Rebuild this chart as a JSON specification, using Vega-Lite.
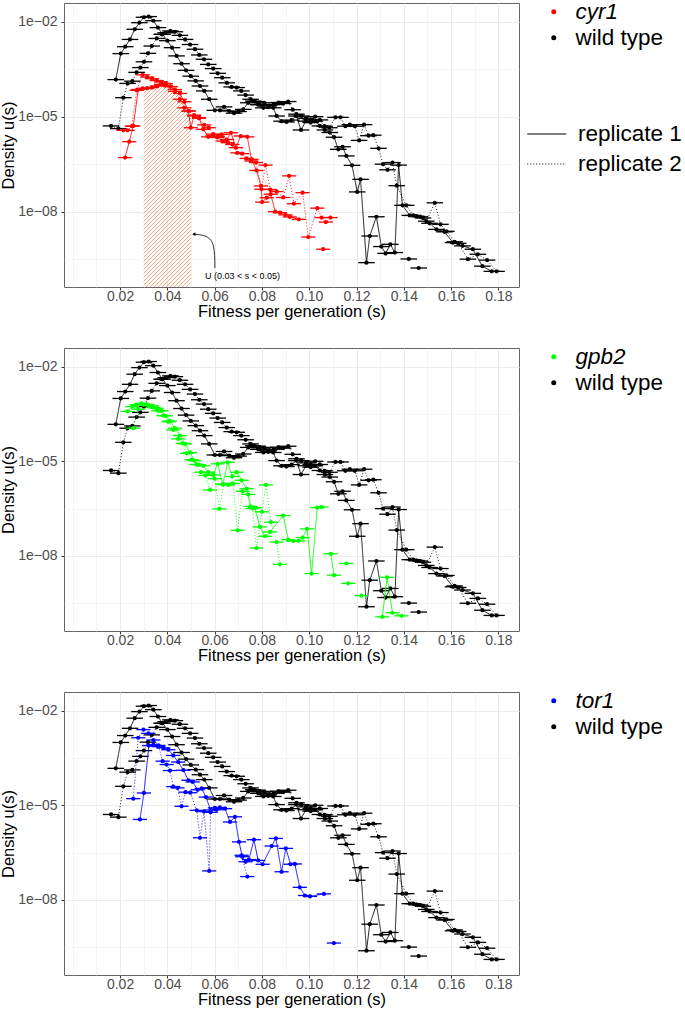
{
"$schema": "https://vega.github.io/schema/vega-lite/v6.json",
"background": "white",
"padding": {"left": 0, "top": 0, "right": 0, "bottom": 0},
"config": {
 "font": "Liberation Sans",
 "view": {"stroke": "#666666", "strokeWidth": 1},
 "axis": {"domain": false, "tickColor": "#333333", "tickSize": 3, "labelFontSize": 14, "labelColor": "#4D4D4D", "titleFontSize": 16.5, "titleFontWeight": "normal", "titleColor": "#000000", "gridColor": "#EBEBEB", "labelOverlap": false, "labelFlush": false},
 "axisX": {"labelPadding": -1, "titlePadding": 0},
 "axisY": {"labelPadding": 4, "titlePadding": 1},
 "legend": {"orient": "none", "labelFontSize": 22.5, "labelColor": "#000000", "padding": 0, "rowPadding": 3, "symbolStrokeWidth": 0, "labelLimit": 300}
},
"datasets": {
 "wt": [
  {"s":0.0182,"u":1.48e-4,"r":1,"k":1,"e":0.0035},{"s":0.0203,"u":9.8e-4,"r":1,"k":1,"e":0.0035},{"s":0.0222,"u":1.62e-3,"r":1,"k":1,"e":0.0035},{"s":0.0242,"u":2.75e-3,"r":1,"k":1,"e":0.0035},{"s":0.0262,"u":5.75e-3,"r":1,"k":1,"e":0.0035},{"s":0.0282,"u":9.3e-3,"r":1,"k":1,"e":0.0035},{"s":0.0301,"u":1.38e-2,"r":1,"k":1,"e":0.0035},{"s":0.0321,"u":1.45e-2,"r":1,"k":1,"e":0.0035},{"s":0.0341,"u":1.07e-2,"r":1,"k":1,"e":0.0035},{"s":0.0360,"u":6.5e-3,"r":1,"k":1,"e":0.0035},
  {"s":0.0380,"u":3.98e-3,"r":1,"k":1,"e":0.0035},{"s":0.0400,"u":2.51e-3,"r":1,"k":1,"e":0.0035},{"s":0.0420,"u":1.51e-3,"r":1,"k":1,"e":0.0035},{"s":0.0439,"u":8.3e-4,"r":1,"k":1,"e":0.0035},{"s":0.0460,"u":4.7e-4,"r":1,"k":1,"e":0.0035},{"s":0.0479,"u":2.9e-4,"r":1,"k":1,"e":0.0035},{"s":0.0499,"u":1.9e-4,"r":1,"k":1,"e":0.0035},{"s":0.0520,"u":1.35e-4,"r":1,"k":1,"e":0.0035},{"s":0.0538,"u":9.3e-5,"r":1,"k":1,"e":0.0035},{"s":0.0556,"u":6.5e-5,"r":1,"k":1,"e":0.0035},
  {"s":0.0577,"u":3.55e-5,"r":1,"k":1,"e":0.0035},{"s":0.0601,"u":1.58e-5,"r":1,"k":1,"e":0.0035},{"s":0.0622,"u":1.58e-5,"r":1,"k":1,"e":0.0035},{"s":0.0640,"u":2.04e-5,"r":1,"k":1,"e":0.0035},{"s":0.0662,"u":1.51e-5,"r":1,"k":1,"e":0.0035},{"s":0.0682,"u":1.29e-5,"r":1,"k":1,"e":0.0035},{"s":0.0701,"u":1.45e-5,"r":1,"k":1,"e":0.0035},{"s":0.0721,"u":1.7e-5,"r":1,"k":1,"e":0.0035},{"s":0.0742,"u":2.75e-5,"r":1,"k":1,"e":0.0035},{"s":0.0763,"u":3.1e-5,"r":1,"k":1,"e":0.0035},
  {"s":0.0784,"u":2.4e-5,"r":1,"k":1,"e":0.0035},{"s":0.0806,"u":1.9e-5,"r":1,"k":1,"e":0.0035},{"s":0.0827,"u":2.0e-5,"r":1,"k":1,"e":0.0035},{"s":0.0848,"u":1.9e-5,"r":1,"k":1,"e":0.0035},{"s":0.0862,"u":1.05e-5,"r":1,"k":1,"e":0.0035},{"s":0.0883,"u":7.2e-6,"r":1,"k":1,"e":0.0035},{"s":0.0904,"u":6.8e-6,"r":1,"k":1,"e":0.0035},{"s":0.0925,"u":7.8e-6,"r":1,"k":1,"e":0.0035},{"s":0.0946,"u":1.05e-5,"r":1,"k":1,"e":0.0035},{"s":0.0965,"u":3.8e-6,"r":1,"k":1,"e":0.0035},
  {"s":0.0986,"u":7.2e-6,"r":1,"k":1,"e":0.0035},{"s":0.1006,"u":6.5e-6,"r":1,"k":1,"e":0.0035},{"s":0.1024,"u":7.2e-6,"r":1,"k":1,"e":0.0035},{"s":0.1045,"u":5.1e-6,"r":1,"k":1,"e":0.0035},{"s":0.1066,"u":3.8e-6,"r":1,"k":1,"e":0.0035},{"s":0.1087,"u":3.16e-6,"r":1,"k":1,"e":0.0035},{"s":0.1105,"u":2.24e-6,"r":1,"k":1,"e":0.0035},{"s":0.1123,"u":9.3e-7,"r":1,"k":1,"e":0.0035},{"s":0.1141,"u":1.12e-6,"r":1,"k":1,"e":0.0035},{"s":0.1157,"u":5.75e-7,"r":1,"k":1,"e":0.0035},
  {"s":0.1181,"u":2.9e-7,"r":1,"k":1,"e":0.0035},{"s":0.1203,"u":4.2e-8,"r":1,"k":1,"e":0.0035},{"s":0.1217,"u":1.05e-7,"r":1,"k":1,"e":0.0035},{"s":0.1242,"u":2.45e-10,"r":1,"k":1,"e":0.0035},{"s":0.1256,"u":1.7e-9,"r":1,"k":1,"e":0.0035},{"s":0.1284,"u":6.9e-9,"r":1,"k":1,"e":0.0035},{"s":0.1305,"u":7.9e-10,"r":1,"k":1,"e":0.0035},{"s":0.1323,"u":4.8e-10,"r":1,"k":1,"e":0.0035},{"s":0.1343,"u":9.3e-10,"r":1,"k":1,"e":0.0035},{"s":0.1362,"u":5.1e-10,"r":1,"k":1,"e":0.0035},
  {"s":0.1378,"u":2.95e-7,"r":1,"k":1,"e":0.0035},{"s":0.1394,"u":1.58e-8,"r":1,"k":1,"e":0.0035},{"s":0.1425,"u":7.6e-9,"r":1,"k":1,"e":0.0035},{"s":0.1453,"u":7.2e-9,"r":1,"k":1,"e":0.0035},{"s":0.1481,"u":6.3e-9,"r":1,"k":1,"e":0.0035},{"s":0.1509,"u":4.3e-9,"r":1,"k":1,"e":0.0035},{"s":0.1538,"u":2.75e-9,"r":1,"k":1,"e":0.0035},{"s":0.1572,"u":2.3e-9,"r":1,"k":1,"e":0.0035},{"s":0.1608,"u":1.05e-9,"r":1,"k":1,"e":0.0035},{"s":0.1648,"u":8.3e-10,"r":1,"k":1,"e":0.0035},
  {"s":0.1692,"u":6.5e-10,"r":1,"k":1,"e":0.0035},{"s":0.1732,"u":1.9e-10,"r":1,"k":1,"e":0.0035},{"s":0.1772,"u":1.3e-10,"r":1,"k":1,"e":0.0035},
  {"s":0.1421,"u":3.2e-10,"r":1,"k":3,"e":0.0035},{"s":0.1463,"u":1.66e-10,"r":1,"k":4,"e":0.0035},
  {"s":0.0162,"u":5.1e-6,"r":2,"k":2,"e":0.0035},{"s":0.0193,"u":4.2e-6,"r":2,"k":2,"e":0.0035},{"s":0.0214,"u":3.98e-5,"r":2,"k":2,"e":0.0035},{"s":0.0232,"u":1.12e-4,"r":2,"k":2,"e":0.0035},{"s":0.0252,"u":1.32e-4,"r":2,"k":2,"e":0.0035},{"s":0.0270,"u":2.51e-4,"r":2,"k":2,"e":0.0035},{"s":0.0286,"u":3.55e-4,"r":2,"k":2,"e":0.0035},{"s":0.0301,"u":5.4e-4,"r":2,"k":2,"e":0.0035},{"s":0.0318,"u":1.0e-3,"r":2,"k":2,"e":0.0035},{"s":0.0334,"u":1.7e-3,"r":2,"k":2,"e":0.0035},
  {"s":0.0355,"u":2.95e-3,"r":2,"k":2,"e":0.0035},{"s":0.0376,"u":3.98e-3,"r":2,"k":2,"e":0.0035},{"s":0.0393,"u":4.47e-3,"r":2,"k":2,"e":0.0035},{"s":0.0413,"u":5.1e-3,"r":2,"k":2,"e":0.0035},{"s":0.0432,"u":4.8e-3,"r":2,"k":2,"e":0.0035},{"s":0.0453,"u":3.7e-3,"r":2,"k":2,"e":0.0035},{"s":0.0475,"u":2.75e-3,"r":2,"k":2,"e":0.0035},{"s":0.0496,"u":1.9e-3,"r":2,"k":2,"e":0.0035},{"s":0.0517,"u":1.35e-3,"r":2,"k":2,"e":0.0035},{"s":0.0535,"u":8.9e-4,"r":2,"k":2,"e":0.0035},
  {"s":0.0555,"u":6.5e-4,"r":2,"k":2,"e":0.0035},{"s":0.0573,"u":4.47e-4,"r":2,"k":2,"e":0.0035},{"s":0.0594,"u":3.3e-4,"r":2,"k":2,"e":0.0035},{"s":0.0613,"u":2.34e-4,"r":2,"k":2,"e":0.0035},{"s":0.0632,"u":1.7e-4,"r":2,"k":2,"e":0.0035},{"s":0.0651,"u":1.17e-4,"r":2,"k":2,"e":0.0035},{"s":0.0672,"u":8.7e-5,"r":2,"k":2,"e":0.0035},{"s":0.0693,"u":8.3e-5,"r":2,"k":2,"e":0.0035},{"s":0.0713,"u":6.5e-5,"r":2,"k":2,"e":0.0035},{"s":0.0731,"u":4.8e-5,"r":2,"k":2,"e":0.0035},
  {"s":0.0752,"u":3.55e-5,"r":2,"k":2,"e":0.0035},{"s":0.0770,"u":3.0e-5,"r":2,"k":2,"e":0.0035},{"s":0.0790,"u":2.4e-5,"r":2,"k":2,"e":0.0035},{"s":0.0810,"u":2.75e-5,"r":2,"k":2,"e":0.0035},{"s":0.0830,"u":2.24e-5,"r":2,"k":2,"e":0.0035},{"s":0.0850,"u":2.4e-5,"r":2,"k":2,"e":0.0035},{"s":0.0870,"u":2.8e-5,"r":2,"k":2,"e":0.0035},{"s":0.0890,"u":2.6e-5,"r":2,"k":2,"e":0.0035},{"s":0.0911,"u":3.0e-5,"r":2,"k":2,"e":0.0035},{"s":0.0930,"u":1.66e-5,"r":2,"k":2,"e":0.0035},
  {"s":0.0946,"u":1.2e-5,"r":2,"k":2,"e":0.0035},{"s":0.0966,"u":1.05e-5,"r":2,"k":2,"e":0.0035},{"s":0.0986,"u":8.9e-6,"r":2,"k":2,"e":0.0035},{"s":0.1006,"u":7.9e-6,"r":2,"k":2,"e":0.0035},{"s":0.1025,"u":1.0e-5,"r":2,"k":2,"e":0.0035},{"s":0.1045,"u":7.9e-6,"r":2,"k":2,"e":0.0035},{"s":0.1065,"u":5.0e-6,"r":2,"k":2,"e":0.0035},{"s":0.1085,"u":4.47e-6,"r":2,"k":2,"e":0.0035},{"s":0.1111,"u":9.5e-6,"r":2,"k":2,"e":0.0035},{"s":0.1132,"u":9.5e-6,"r":2,"k":2,"e":0.0035},
  {"s":0.1153,"u":5.0e-6,"r":2,"k":2,"e":0.0035},{"s":0.1172,"u":5.6e-6,"r":2,"k":2,"e":0.0035},{"s":0.1193,"u":5.0e-6,"r":2,"k":2,"e":0.0035},{"s":0.1211,"u":1.78e-6,"r":2,"k":2,"e":0.0035},{"s":0.1232,"u":5.6e-6,"r":2,"k":2,"e":0.0035},{"s":0.1251,"u":2.5e-6,"r":2,"k":2,"e":0.0035},{"s":0.1271,"u":2.6e-6,"r":2,"k":2,"e":0.0035},{"s":0.1293,"u":1.0e-6,"r":2,"k":2,"e":0.0035},{"s":0.1312,"u":3.16e-7,"r":2,"k":2,"e":0.0035},{"s":0.1331,"u":2.1e-7,"r":2,"k":2,"e":0.0035},
  {"s":0.1352,"u":3.55e-7,"r":2,"k":2,"e":0.0035},{"s":0.1370,"u":6.6e-8,"r":2,"k":2,"e":0.0035},{"s":0.1410,"u":1.58e-8,"r":2,"k":2,"e":0.0035},{"s":0.1440,"u":7.6e-9,"r":2,"k":2,"e":0.0035},{"s":0.1468,"u":6.9e-9,"r":2,"k":2,"e":0.0035},{"s":0.1495,"u":5.0e-9,"r":2,"k":2,"e":0.0035},{"s":0.1531,"u":1.9e-8,"r":2,"k":2,"e":0.0035},{"s":0.1555,"u":3.98e-9,"r":2,"k":2,"e":0.0035},{"s":0.1580,"u":2.4e-9,"r":2,"k":2,"e":0.0035},{"s":0.1615,"u":1.12e-9,"r":2,"k":2,"e":0.0035},
  {"s":0.1630,"u":1.0e-9,"r":2,"k":2,"e":0.0035},{"s":0.1671,"u":3.16e-10,"r":2,"k":2,"e":0.0035},{"s":0.1713,"u":4.5e-10,"r":2,"k":2,"e":0.0035},{"s":0.1752,"u":2.95e-10,"r":2,"k":2,"e":0.0035},{"s":0.1792,"u":1.3e-10,"r":2,"k":2,"e":0.0035}
 ],
 "cyr1": [
  {"s":0.0221,"u":5.1e-7,"r":1,"k":1,"e":0.003},{"s":0.0239,"u":1.62e-6,"r":1,"k":1,"e":0.003},{"s":0.0256,"u":5.1e-6,"r":1,"k":1,"e":0.003},{"s":0.0277,"u":7.2e-5,"r":1,"k":1,"e":0.003},{"s":0.0296,"u":7.8e-5,"r":1,"k":1,"e":0.003},{"s":0.0315,"u":7.9e-5,"r":1,"k":1,"e":0.003},{"s":0.0335,"u":8.3e-5,"r":1,"k":1,"e":0.003},{"s":0.0355,"u":9.3e-5,"r":1,"k":1,"e":0.003},{"s":0.0373,"u":1.05e-4,"r":1,"k":1,"e":0.003},{"s":0.0393,"u":9.8e-5,"r":1,"k":1,"e":0.003},
  {"s":0.0413,"u":8.9e-5,"r":1,"k":1,"e":0.003},{"s":0.0432,"u":7.2e-5,"r":1,"k":1,"e":0.003},{"s":0.0453,"u":5.4e-5,"r":1,"k":1,"e":0.003},{"s":0.0472,"u":2.95e-5,"r":1,"k":1,"e":0.003},{"s":0.0489,"u":1.51e-5,"r":1,"k":1,"e":0.003},{"s":0.0499,"u":4.47e-6,"r":1,"k":1,"e":0.003},{"s":0.0513,"u":1.05e-5,"r":1,"k":1,"e":0.003},{"s":0.0534,"u":9.3e-6,"r":1,"k":1,"e":0.003},{"s":0.0552,"u":3.98e-6,"r":1,"k":1,"e":0.003},{"s":0.0573,"u":2.3e-6,"r":1,"k":1,"e":0.003},
  {"s":0.0591,"u":2.45e-6,"r":1,"k":1,"e":0.003},{"s":0.0611,"u":2.2e-6,"r":1,"k":1,"e":0.003},{"s":0.0630,"u":2.75e-6,"r":1,"k":1,"e":0.003},{"s":0.0651,"u":1.9e-6,"r":1,"k":1,"e":0.003},{"s":0.0669,"u":3.1e-6,"r":1,"k":1,"e":0.003},{"s":0.0690,"u":1.05e-6,"r":1,"k":1,"e":0.003},{"s":0.0710,"u":2.45e-6,"r":1,"k":1,"e":0.003},{"s":0.0738,"u":2.3e-6,"r":1,"k":1,"e":0.003},{"s":0.0756,"u":4.47e-7,"r":1,"k":1,"e":0.003},{"s":0.0777,"u":2.0e-7,"r":1,"k":1,"e":0.003},
  {"s":0.0796,"u":6.5e-8,"r":1,"k":1,"e":0.003},{"s":0.0801,"u":2.0e-8,"r":1,"k":1,"e":0.003},{"s":0.0820,"u":2.75e-8,"r":1,"k":1,"e":0.003},{"s":0.0837,"u":3.55e-8,"r":1,"k":1,"e":0.003},{"s":0.0856,"u":1.0e-8,"r":1,"k":1,"e":0.003},{"s":0.0876,"u":9.3e-9,"r":1,"k":1,"e":0.003},{"s":0.0900,"u":7.9e-9,"r":1,"k":1,"e":0.003},{"s":0.0918,"u":6.8e-9,"r":1,"k":1,"e":0.003},{"s":0.0956,"u":5.75e-9,"r":1,"k":1,"e":0.003},
  {"s":0.0214,"u":3.7e-6,"r":2,"k":2,"e":0.003},{"s":0.0232,"u":3.7e-6,"r":2,"k":2,"e":0.003},{"s":0.0250,"u":5.0e-6,"r":2,"k":2,"e":0.003},{"s":0.0270,"u":6.8e-5,"r":2,"k":2,"e":0.003},{"s":0.0296,"u":2.1e-4,"r":2,"k":2,"e":0.003},{"s":0.0315,"u":1.78e-4,"r":2,"k":2,"e":0.003},{"s":0.0335,"u":1.58e-4,"r":2,"k":2,"e":0.003},{"s":0.0355,"u":1.38e-4,"r":2,"k":2,"e":0.003},{"s":0.0373,"u":1.26e-4,"r":2,"k":2,"e":0.003},{"s":0.0393,"u":1.12e-4,"r":2,"k":2,"e":0.003},
  {"s":0.0413,"u":8.9e-5,"r":2,"k":2,"e":0.003},{"s":0.0432,"u":6.3e-5,"r":2,"k":2,"e":0.003},{"s":0.0453,"u":3.55e-5,"r":2,"k":2,"e":0.003},{"s":0.0472,"u":1.9e-5,"r":2,"k":2,"e":0.003},{"s":0.0491,"u":1.51e-5,"r":2,"k":2,"e":0.003},{"s":0.0513,"u":1.12e-5,"r":2,"k":2,"e":0.003},{"s":0.0534,"u":8.9e-6,"r":2,"k":2,"e":0.003},{"s":0.0556,"u":5.5e-6,"r":2,"k":2,"e":0.003},{"s":0.0575,"u":4.47e-6,"r":2,"k":2,"e":0.003},{"s":0.0594,"u":2.8e-6,"r":2,"k":2,"e":0.003},
  {"s":0.0613,"u":2.4e-6,"r":2,"k":2,"e":0.003},{"s":0.0634,"u":1.7e-6,"r":2,"k":2,"e":0.003},{"s":0.0655,"u":1.51e-6,"r":2,"k":2,"e":0.003},{"s":0.0675,"u":1.32e-6,"r":2,"k":2,"e":0.003},{"s":0.0696,"u":7.2e-7,"r":2,"k":2,"e":0.003},{"s":0.0716,"u":6.8e-7,"r":2,"k":2,"e":0.003},{"s":0.0735,"u":4.8e-7,"r":2,"k":2,"e":0.003},{"s":0.0755,"u":3.98e-7,"r":2,"k":2,"e":0.003},{"s":0.0775,"u":3.55e-7,"r":2,"k":2,"e":0.003},{"s":0.0798,"u":5.1e-8,"r":2,"k":2,"e":0.003},
  {"s":0.0815,"u":2.95e-7,"r":2,"k":2,"e":0.003},{"s":0.0835,"u":5.0e-8,"r":2,"k":2,"e":0.003},{"s":0.0862,"u":4.3e-8,"r":2,"k":2,"e":0.003},{"s":0.0890,"u":2.8e-8,"r":2,"k":2,"e":0.003},{"s":0.0915,"u":1.35e-7,"r":2,"k":2,"e":0.003},{"s":0.0935,"u":1.78e-8,"r":2,"k":2,"e":0.003},{"s":0.0972,"u":3.98e-8,"r":2,"k":2,"e":0.003},{"s":0.0996,"u":1.58e-9,"r":2,"k":2,"e":0.003},{"s":0.1034,"u":1.29e-8,"r":2,"k":2,"e":0.003},{"s":0.1052,"u":6.5e-9,"r":2,"k":2,"e":0.003},
  {"s":0.1070,"u":4.7e-9,"r":2,"k":2,"e":0.003},{"s":0.1090,"u":6.5e-9,"r":2,"k":2,"e":0.003},{"s":0.1059,"u":6.5e-10,"r":2,"k":3,"e":0.003}
 ],
 "gpb2": [
  {"s":0.0232,"u":3.8e-4,"r":1,"k":1,"e":0.003},{"s":0.0252,"u":5.4e-4,"r":1,"k":1,"e":0.003},{"s":0.0270,"u":6.2e-4,"r":1,"k":1,"e":0.003},{"s":0.0291,"u":6.8e-4,"r":1,"k":1,"e":0.003},{"s":0.0313,"u":6.3e-4,"r":1,"k":1,"e":0.003},{"s":0.0334,"u":5.75e-4,"r":1,"k":1,"e":0.003},{"s":0.0355,"u":4.8e-4,"r":1,"k":1,"e":0.003},{"s":0.0376,"u":3.98e-4,"r":1,"k":1,"e":0.003},{"s":0.0393,"u":2.75e-4,"r":1,"k":1,"e":0.003},{"s":0.0411,"u":1.9e-4,"r":1,"k":1,"e":0.003},
  {"s":0.0432,"u":1.12e-4,"r":1,"k":1,"e":0.003},{"s":0.0453,"u":6.5e-5,"r":1,"k":1,"e":0.003},{"s":0.0475,"u":3.55e-5,"r":1,"k":1,"e":0.003},{"s":0.0496,"u":1.9e-5,"r":1,"k":1,"e":0.003},{"s":0.0514,"u":1.05e-5,"r":1,"k":1,"e":0.003},{"s":0.0534,"u":7.8e-6,"r":1,"k":1,"e":0.003},{"s":0.0552,"u":7.2e-6,"r":1,"k":1,"e":0.003},{"s":0.0573,"u":4.5e-6,"r":1,"k":1,"e":0.003},{"s":0.0594,"u":3.7e-6,"r":1,"k":1,"e":0.003},{"s":0.0613,"u":8.3e-6,"r":1,"k":1,"e":0.003},
  {"s":0.0634,"u":1.82e-6,"r":1,"k":1,"e":0.003},{"s":0.0655,"u":9.3e-6,"r":1,"k":1,"e":0.003},{"s":0.0675,"u":3.3e-6,"r":1,"k":1,"e":0.003},{"s":0.0693,"u":4.5e-6,"r":1,"k":1,"e":0.003},{"s":0.0714,"u":2.5e-6,"r":1,"k":1,"e":0.003},{"s":0.0735,"u":1.35e-6,"r":1,"k":1,"e":0.003},{"s":0.0752,"u":3.7e-7,"r":1,"k":1,"e":0.003},{"s":0.0770,"u":3.4e-7,"r":1,"k":1,"e":0.003},{"s":0.0791,"u":8.3e-8,"r":1,"k":1,"e":0.003},{"s":0.0813,"u":4.2e-8,"r":1,"k":1,"e":0.003},
  {"s":0.0834,"u":5.75e-8,"r":1,"k":1,"e":0.003},{"s":0.0890,"u":1.9e-7,"r":1,"k":1,"e":0.003},{"s":0.0911,"u":3.3e-8,"r":1,"k":1,"e":0.003},{"s":0.0932,"u":2.95e-8,"r":1,"k":1,"e":0.003},{"s":0.0955,"u":3.0e-8,"r":1,"k":1,"e":0.003},{"s":0.0972,"u":3.8e-8,"r":1,"k":1,"e":0.003},{"s":0.0991,"u":7.2e-8,"r":1,"k":1,"e":0.003},{"s":0.1010,"u":2.75e-9,"r":1,"k":1,"e":0.003},{"s":0.1034,"u":3.4e-7,"r":1,"k":1,"e":0.003},{"s":0.1052,"u":3.55e-7,"r":1,"k":1,"e":0.003},
  {"s":0.1091,"u":1.17e-8,"r":1,"k":3,"e":0.003},{"s":0.1105,"u":2.45e-9,"r":1,"k":3,"e":0.003},
  {"s":0.1309,"u":1.17e-10,"r":1,"k":4,"e":0.003},{"s":0.1329,"u":2.1e-9,"r":1,"k":4,"e":0.003},{"s":0.1352,"u":1.58e-10,"r":1,"k":4,"e":0.003},{"s":0.1390,"u":1.26e-10,"r":1,"k":4,"e":0.003},
  {"s":0.1221,"u":5.5e-10,"r":1,"k":5,"e":0.003},{"s":0.1157,"u":5.75e-9,"r":1,"k":6,"e":0.003},{"s":0.1165,"u":1.35e-9,"r":1,"k":7,"e":0.003},
  {"s":0.0256,"u":1.12e-4,"r":2,"k":2,"e":0.003},{"s":0.0277,"u":4.5e-4,"r":2,"k":2,"e":0.003},{"s":0.0299,"u":6.2e-4,"r":2,"k":2,"e":0.003},{"s":0.0320,"u":6.0e-4,"r":2,"k":2,"e":0.003},{"s":0.0341,"u":5.0e-4,"r":2,"k":2,"e":0.003},{"s":0.0362,"u":3.98e-4,"r":2,"k":2,"e":0.003},{"s":0.0383,"u":2.8e-4,"r":2,"k":2,"e":0.003},{"s":0.0404,"u":1.78e-4,"r":2,"k":2,"e":0.003},{"s":0.0425,"u":9.8e-5,"r":2,"k":2,"e":0.003},{"s":0.0446,"u":5.1e-5,"r":2,"k":2,"e":0.003},
  {"s":0.0465,"u":3.7e-5,"r":2,"k":2,"e":0.003},{"s":0.0482,"u":1.78e-5,"r":2,"k":2,"e":0.003},{"s":0.0503,"u":1.12e-5,"r":2,"k":2,"e":0.003},{"s":0.0522,"u":7.9e-6,"r":2,"k":2,"e":0.003},{"s":0.0542,"u":4.5e-6,"r":2,"k":2,"e":0.003},{"s":0.0561,"u":3.55e-6,"r":2,"k":2,"e":0.003},{"s":0.0580,"u":1.23e-6,"r":2,"k":2,"e":0.003},{"s":0.0600,"u":2.8e-6,"r":2,"k":2,"e":0.003},{"s":0.0620,"u":3.1e-7,"r":2,"k":2,"e":0.003},{"s":0.0639,"u":1.9e-6,"r":2,"k":2,"e":0.003},
  {"s":0.0658,"u":1.78e-6,"r":2,"k":2,"e":0.003},{"s":0.0677,"u":2.0e-6,"r":2,"k":2,"e":0.003},{"s":0.0697,"u":6.5e-8,"r":2,"k":2,"e":0.003},{"s":0.0718,"u":1.12e-6,"r":2,"k":2,"e":0.003},{"s":0.0742,"u":8.9e-7,"r":2,"k":2,"e":0.003},{"s":0.0760,"u":3.16e-7,"r":2,"k":2,"e":0.003},{"s":0.0777,"u":1.78e-8,"r":2,"k":2,"e":0.003},{"s":0.0800,"u":2.5e-7,"r":2,"k":2,"e":0.003},{"s":0.0817,"u":1.78e-6,"r":2,"k":2,"e":0.003},{"s":0.0838,"u":1.17e-7,"r":2,"k":2,"e":0.003},
  {"s":0.0862,"u":2.75e-8,"r":2,"k":2,"e":0.003},{"s":0.0876,"u":5.4e-9,"r":2,"k":2,"e":0.003}
 ],
 "tor1": [
  {"s":0.0284,"u":3.55e-6,"r":1,"k":1,"e":0.003},{"s":0.0301,"u":2.45e-5,"r":1,"k":1,"e":0.003},{"s":0.0322,"u":7.8e-4,"r":1,"k":1,"e":0.003},{"s":0.0341,"u":8.3e-4,"r":1,"k":1,"e":0.003},{"s":0.0362,"u":7.2e-4,"r":1,"k":1,"e":0.003},{"s":0.0383,"u":6.6e-4,"r":1,"k":1,"e":0.003},{"s":0.0404,"u":5.75e-4,"r":1,"k":1,"e":0.003},{"s":0.0425,"u":3.8e-4,"r":1,"k":1,"e":0.003},{"s":0.0446,"u":2.34e-4,"r":1,"k":1,"e":0.003},{"s":0.0468,"u":1.29e-4,"r":1,"k":1,"e":0.003},
  {"s":0.0489,"u":6.2e-5,"r":1,"k":1,"e":0.003},{"s":0.0507,"u":5.5e-5,"r":1,"k":1,"e":0.003},{"s":0.0528,"u":3.1e-5,"r":1,"k":1,"e":0.003},{"s":0.0545,"u":3.4e-5,"r":1,"k":1,"e":0.003},{"s":0.0563,"u":1.82e-5,"r":1,"k":1,"e":0.003},{"s":0.0583,"u":7.1e-6,"r":1,"k":1,"e":0.003},{"s":0.0601,"u":8.3e-6,"r":1,"k":1,"e":0.003},{"s":0.0622,"u":8.5e-6,"r":1,"k":1,"e":0.003},{"s":0.0644,"u":7.8e-6,"r":1,"k":1,"e":0.003},{"s":0.0665,"u":2.95e-6,"r":1,"k":1,"e":0.003},
  {"s":0.0686,"u":4.3e-6,"r":1,"k":1,"e":0.003},{"s":0.0703,"u":6.9e-7,"r":1,"k":1,"e":0.003},{"s":0.0717,"u":2.34e-7,"r":1,"k":1,"e":0.003},{"s":0.0731,"u":1.62e-7,"r":1,"k":1,"e":0.003},{"s":0.0745,"u":1.9e-7,"r":1,"k":1,"e":0.003},{"s":0.0766,"u":8.1e-7,"r":1,"k":1,"e":0.003},{"s":0.0784,"u":1.78e-7,"r":1,"k":1,"e":0.003},{"s":0.0803,"u":1.35e-7,"r":1,"k":1,"e":0.003},{"s":0.0841,"u":5.1e-7,"r":1,"k":1,"e":0.003},{"s":0.0859,"u":8.9e-7,"r":1,"k":1,"e":0.003},
  {"s":0.0883,"u":7.8e-8,"r":1,"k":1,"e":0.003},{"s":0.0901,"u":4.3e-7,"r":1,"k":1,"e":0.003},{"s":0.0921,"u":1.35e-7,"r":1,"k":1,"e":0.003},{"s":0.0939,"u":1.38e-7,"r":1,"k":1,"e":0.003},{"s":0.0960,"u":2.5e-8,"r":1,"k":1,"e":0.003},{"s":0.0982,"u":1.38e-8,"r":1,"k":1,"e":0.003},{"s":0.1003,"u":1.29e-8,"r":1,"k":1,"e":0.003},{"s":0.1062,"u":1.55e-8,"r":1,"k":1,"e":0.003},
  {"s":0.1104,"u":4.3e-10,"r":1,"k":3,"e":0.003},
  {"s":0.0256,"u":1.62e-5,"r":2,"k":2,"e":0.003},{"s":0.0277,"u":1.38e-3,"r":2,"k":2,"e":0.003},{"s":0.0299,"u":2.5e-3,"r":2,"k":2,"e":0.003},{"s":0.0320,"u":1.9e-3,"r":2,"k":2,"e":0.003},{"s":0.0341,"u":1.17e-3,"r":2,"k":2,"e":0.003},{"s":0.0362,"u":7.9e-4,"r":2,"k":2,"e":0.003},{"s":0.0380,"u":2.5e-4,"r":2,"k":2,"e":0.003},{"s":0.0397,"u":1.95e-4,"r":2,"k":2,"e":0.003},{"s":0.0411,"u":1.26e-4,"r":2,"k":2,"e":0.003},{"s":0.0425,"u":3.9e-5,"r":2,"k":2,"e":0.003},
  {"s":0.0443,"u":3.55e-5,"r":2,"k":2,"e":0.003},{"s":0.0460,"u":9.3e-6,"r":2,"k":2,"e":0.003},{"s":0.0477,"u":2.6e-5,"r":2,"k":2,"e":0.003},{"s":0.0497,"u":2.5e-5,"r":2,"k":2,"e":0.003},{"s":0.0524,"u":6.9e-6,"r":2,"k":2,"e":0.003},{"s":0.0538,"u":9.3e-7,"r":2,"k":2,"e":0.003},{"s":0.0555,"u":6.3e-6,"r":2,"k":2,"e":0.003},{"s":0.0577,"u":8.3e-8,"r":2,"k":2,"e":0.003},{"s":0.0583,"u":6.0e-6,"r":2,"k":2,"e":0.003},{"s":0.0608,"u":7.2e-6,"r":2,"k":2,"e":0.003},
  {"s":0.0714,"u":2.6e-7,"r":2,"k":4,"e":0.003},{"s":0.0738,"u":5.5e-8,"r":2,"k":4,"e":0.003}
 ],
 "hatch": [
  {"s":0.0300,"u":7.8e-5},{"s":0.0315,"u":7.9e-5},{"s":0.0335,"u":8.3e-5},{"s":0.0355,"u":9.3e-5},{"s":0.0373,"u":1.05e-4},{"s":0.0393,"u":9.8e-5},{"s":0.0413,"u":8.9e-5},{"s":0.0432,"u":7.2e-5},{"s":0.0453,"u":5.4e-5},{"s":0.0472,"u":2.95e-5},{"s":0.0489,"u":1.51e-5},{"s":0.0500,"u":1.5e-5}
 ]
},
"spacing": 61,
"bounds": "flush",
"resolve": {"scale": {"color": "independent", "strokeDash": "independent", "x": "independent", "y": "independent"}, "legend": {"color": "independent", "strokeDash": "independent"}},
"vconcat": [
 {
  "width": 455, "height": 284,
  "encoding": {
   "x": {"field": "s", "type": "quantitative", "scale": {"domain": [-0.0037, 0.1887], "nice": false, "zero": false}, "axis": {"title": "Fitness per generation (s)", "values": [0,0.01,0.02,0.03,0.04,0.05,0.06,0.07,0.08,0.09,0.1,0.11,0.12,0.13,0.14,0.15,0.16,0.17,0.18], "labelExpr": "round(datum.value*100)%2==0 && datum.value>0.001 ? format(datum.value,'.2f') : ''", "gridWidth": {"condition": {"test": "round(datum.value*100)%2==1 || datum.value<0.001", "value": 0.5}, "value": 1}, "tickOpacity": {"condition": {"test": "round(datum.value*100)%2==1 || datum.value<0.001", "value": 0}, "value": 1}}},
   "y": {"field": "u", "type": "quantitative", "scale": {"type": "log", "domain": [4.17e-11, 0.0389], "nice": false}, "axis": {"title": "Density u(s)", "values": [0.01,3.162e-4,1e-5,3.162e-7,1e-8,3.162e-10], "labelExpr": "datum.value > 0.005 ? '1e−02' : (datum.value > 5e-6 && datum.value < 2e-5) ? '1e−05' : (datum.value > 5e-9 && datum.value < 2e-8) ? '1e−08' : ''", "gridWidth": {"condition": {"test": "datum.value < 0.005 && !(datum.value > 5e-6 && datum.value < 2e-5) && !(datum.value > 5e-9 && datum.value < 2e-8)", "value": 0.5}, "value": 1}, "tickOpacity": {"condition": {"test": "datum.value < 0.005 && !(datum.value > 5e-6 && datum.value < 2e-5) && !(datum.value > 5e-9 && datum.value < 2e-8)", "value": 0}, "value": 1}}}
  },
  "layer": [
   {"data": {"name": "hatch"}, "mark": {"type": "area", "strokeWidth": 0, "fill": {"gradient": "linear", "x1": 0, "y1": 0, "x2": 0.271, "y2": 1.1608, "stops": [
    {"offset":0,"color":"#f4a582"},{"offset":0.0060,"color":"#f4a582"},{"offset":0.0060,"color":"rgba(255,255,255,0)"},{"offset":0.0161,"color":"rgba(255,255,255,0)"},
    {"offset":0.0161,"color":"#f4a582"},{"offset":0.0222,"color":"#f4a582"},{"offset":0.0222,"color":"rgba(255,255,255,0)"},{"offset":0.0323,"color":"rgba(255,255,255,0)"},
    {"offset":0.0323,"color":"#f4a582"},{"offset":0.0383,"color":"#f4a582"},{"offset":0.0383,"color":"rgba(255,255,255,0)"},{"offset":0.0484,"color":"rgba(255,255,255,0)"},
    {"offset":0.0484,"color":"#f4a582"},{"offset":0.0544,"color":"#f4a582"},{"offset":0.0544,"color":"rgba(255,255,255,0)"},{"offset":0.0645,"color":"rgba(255,255,255,0)"},
    {"offset":0.0645,"color":"#f4a582"},{"offset":0.0706,"color":"#f4a582"},{"offset":0.0706,"color":"rgba(255,255,255,0)"},{"offset":0.0806,"color":"rgba(255,255,255,0)"},
    {"offset":0.0806,"color":"#f4a582"},{"offset":0.0867,"color":"#f4a582"},{"offset":0.0867,"color":"rgba(255,255,255,0)"},{"offset":0.0968,"color":"rgba(255,255,255,0)"},
    {"offset":0.0968,"color":"#f4a582"},{"offset":0.1028,"color":"#f4a582"},{"offset":0.1028,"color":"rgba(255,255,255,0)"},{"offset":0.1129,"color":"rgba(255,255,255,0)"},
    {"offset":0.1129,"color":"#f4a582"},{"offset":0.1190,"color":"#f4a582"},{"offset":0.1190,"color":"rgba(255,255,255,0)"},{"offset":0.1290,"color":"rgba(255,255,255,0)"},
    {"offset":0.1290,"color":"#f4a582"},{"offset":0.1351,"color":"#f4a582"},{"offset":0.1351,"color":"rgba(255,255,255,0)"},{"offset":0.1452,"color":"rgba(255,255,255,0)"},
    {"offset":0.1452,"color":"#f4a582"},{"offset":0.1512,"color":"#f4a582"},{"offset":0.1512,"color":"rgba(255,255,255,0)"},{"offset":0.1613,"color":"rgba(255,255,255,0)"},
    {"offset":0.1613,"color":"#f4a582"},{"offset":0.1673,"color":"#f4a582"},{"offset":0.1673,"color":"rgba(255,255,255,0)"},{"offset":0.1774,"color":"rgba(255,255,255,0)"},
    {"offset":0.1774,"color":"#f4a582"},{"offset":0.1835,"color":"#f4a582"},{"offset":0.1835,"color":"rgba(255,255,255,0)"},{"offset":0.1935,"color":"rgba(255,255,255,0)"},
    {"offset":0.1935,"color":"#f4a582"},{"offset":0.1996,"color":"#f4a582"},{"offset":0.1996,"color":"rgba(255,255,255,0)"},{"offset":0.2097,"color":"rgba(255,255,255,0)"},
    {"offset":0.2097,"color":"#f4a582"},{"offset":0.2157,"color":"#f4a582"},{"offset":0.2157,"color":"rgba(255,255,255,0)"},{"offset":0.2258,"color":"rgba(255,255,255,0)"},
    {"offset":0.2258,"color":"#f4a582"},{"offset":0.2319,"color":"#f4a582"},{"offset":0.2319,"color":"rgba(255,255,255,0)"},{"offset":0.2419,"color":"rgba(255,255,255,0)"},
    {"offset":0.2419,"color":"#f4a582"},{"offset":0.2480,"color":"#f4a582"},{"offset":0.2480,"color":"rgba(255,255,255,0)"},{"offset":0.2581,"color":"rgba(255,255,255,0)"},
    {"offset":0.2581,"color":"#f4a582"},{"offset":0.2641,"color":"#f4a582"},{"offset":0.2641,"color":"rgba(255,255,255,0)"},{"offset":0.2742,"color":"rgba(255,255,255,0)"},
    {"offset":0.2742,"color":"#f4a582"},{"offset":0.2802,"color":"#f4a582"},{"offset":0.2802,"color":"rgba(255,255,255,0)"},{"offset":0.2903,"color":"rgba(255,255,255,0)"},
    {"offset":0.2903,"color":"#f4a582"},{"offset":0.2964,"color":"#f4a582"},{"offset":0.2964,"color":"rgba(255,255,255,0)"},{"offset":0.3065,"color":"rgba(255,255,255,0)"},
    {"offset":0.3065,"color":"#f4a582"},{"offset":0.3125,"color":"#f4a582"},{"offset":0.3125,"color":"rgba(255,255,255,0)"},{"offset":0.3226,"color":"rgba(255,255,255,0)"},
    {"offset":0.3226,"color":"#f4a582"},{"offset":0.3286,"color":"#f4a582"},{"offset":0.3286,"color":"rgba(255,255,255,0)"},{"offset":0.3387,"color":"rgba(255,255,255,0)"},
    {"offset":0.3387,"color":"#f4a582"},{"offset":0.3448,"color":"#f4a582"},{"offset":0.3448,"color":"rgba(255,255,255,0)"},{"offset":0.3548,"color":"rgba(255,255,255,0)"},
    {"offset":0.3548,"color":"#f4a582"},{"offset":0.3609,"color":"#f4a582"},{"offset":0.3609,"color":"rgba(255,255,255,0)"},{"offset":0.3710,"color":"rgba(255,255,255,0)"},
    {"offset":0.3710,"color":"#f4a582"},{"offset":0.3770,"color":"#f4a582"},{"offset":0.3770,"color":"rgba(255,255,255,0)"},{"offset":0.3871,"color":"rgba(255,255,255,0)"},
    {"offset":0.3871,"color":"#f4a582"},{"offset":0.3931,"color":"#f4a582"},{"offset":0.3931,"color":"rgba(255,255,255,0)"},{"offset":0.4032,"color":"rgba(255,255,255,0)"},
    {"offset":0.4032,"color":"#f4a582"},{"offset":0.4093,"color":"#f4a582"},{"offset":0.4093,"color":"rgba(255,255,255,0)"},{"offset":0.4194,"color":"rgba(255,255,255,0)"},
    {"offset":0.4194,"color":"#f4a582"},{"offset":0.4254,"color":"#f4a582"},{"offset":0.4254,"color":"rgba(255,255,255,0)"},{"offset":0.4355,"color":"rgba(255,255,255,0)"},
    {"offset":0.4355,"color":"#f4a582"},{"offset":0.4415,"color":"#f4a582"},{"offset":0.4415,"color":"rgba(255,255,255,0)"},{"offset":0.4516,"color":"rgba(255,255,255,0)"},
    {"offset":0.4516,"color":"#f4a582"},{"offset":0.4577,"color":"#f4a582"},{"offset":0.4577,"color":"rgba(255,255,255,0)"},{"offset":0.4677,"color":"rgba(255,255,255,0)"},
    {"offset":0.4677,"color":"#f4a582"},{"offset":0.4738,"color":"#f4a582"},{"offset":0.4738,"color":"rgba(255,255,255,0)"},{"offset":0.4839,"color":"rgba(255,255,255,0)"},
    {"offset":0.4839,"color":"#f4a582"},{"offset":0.4899,"color":"#f4a582"},{"offset":0.4899,"color":"rgba(255,255,255,0)"},{"offset":0.5000,"color":"rgba(255,255,255,0)"},
    {"offset":0.5000,"color":"#f4a582"},{"offset":0.5060,"color":"#f4a582"},{"offset":0.5060,"color":"rgba(255,255,255,0)"},{"offset":0.5161,"color":"rgba(255,255,255,0)"},
    {"offset":0.5161,"color":"#f4a582"},{"offset":0.5222,"color":"#f4a582"},{"offset":0.5222,"color":"rgba(255,255,255,0)"},{"offset":0.5323,"color":"rgba(255,255,255,0)"},
    {"offset":0.5323,"color":"#f4a582"},{"offset":0.5383,"color":"#f4a582"},{"offset":0.5383,"color":"rgba(255,255,255,0)"},{"offset":0.5484,"color":"rgba(255,255,255,0)"},
    {"offset":0.5484,"color":"#f4a582"},{"offset":0.5544,"color":"#f4a582"},{"offset":0.5544,"color":"rgba(255,255,255,0)"},{"offset":0.5645,"color":"rgba(255,255,255,0)"},
    {"offset":0.5645,"color":"#f4a582"},{"offset":0.5706,"color":"#f4a582"},{"offset":0.5706,"color":"rgba(255,255,255,0)"},{"offset":0.5806,"color":"rgba(255,255,255,0)"},
    {"offset":0.5806,"color":"#f4a582"},{"offset":0.5867,"color":"#f4a582"},{"offset":0.5867,"color":"rgba(255,255,255,0)"},{"offset":0.5968,"color":"rgba(255,255,255,0)"},
    {"offset":0.5968,"color":"#f4a582"},{"offset":0.6028,"color":"#f4a582"},{"offset":0.6028,"color":"rgba(255,255,255,0)"},{"offset":0.6129,"color":"rgba(255,255,255,0)"},
    {"offset":0.6129,"color":"#f4a582"},{"offset":0.6190,"color":"#f4a582"},{"offset":0.6190,"color":"rgba(255,255,255,0)"},{"offset":0.6290,"color":"rgba(255,255,255,0)"},
    {"offset":0.6290,"color":"#f4a582"},{"offset":0.6351,"color":"#f4a582"},{"offset":0.6351,"color":"rgba(255,255,255,0)"},{"offset":0.6452,"color":"rgba(255,255,255,0)"},
    {"offset":0.6452,"color":"#f4a582"},{"offset":0.6512,"color":"#f4a582"},{"offset":0.6512,"color":"rgba(255,255,255,0)"},{"offset":0.6613,"color":"rgba(255,255,255,0)"},
    {"offset":0.6613,"color":"#f4a582"},{"offset":0.6673,"color":"#f4a582"},{"offset":0.6673,"color":"rgba(255,255,255,0)"},{"offset":0.6774,"color":"rgba(255,255,255,0)"},
    {"offset":0.6774,"color":"#f4a582"},{"offset":0.6835,"color":"#f4a582"},{"offset":0.6835,"color":"rgba(255,255,255,0)"},{"offset":0.6935,"color":"rgba(255,255,255,0)"},
    {"offset":0.6935,"color":"#f4a582"},{"offset":0.6996,"color":"#f4a582"},{"offset":0.6996,"color":"rgba(255,255,255,0)"},{"offset":0.7097,"color":"rgba(255,255,255,0)"},
    {"offset":0.7097,"color":"#f4a582"},{"offset":0.7157,"color":"#f4a582"},{"offset":0.7157,"color":"rgba(255,255,255,0)"},{"offset":0.7258,"color":"rgba(255,255,255,0)"},
    {"offset":0.7258,"color":"#f4a582"},{"offset":0.7319,"color":"#f4a582"},{"offset":0.7319,"color":"rgba(255,255,255,0)"},{"offset":0.7419,"color":"rgba(255,255,255,0)"},
    {"offset":0.7419,"color":"#f4a582"},{"offset":0.7480,"color":"#f4a582"},{"offset":0.7480,"color":"rgba(255,255,255,0)"},{"offset":0.7581,"color":"rgba(255,255,255,0)"},
    {"offset":0.7581,"color":"#f4a582"},{"offset":0.7641,"color":"#f4a582"},{"offset":0.7641,"color":"rgba(255,255,255,0)"},{"offset":0.7742,"color":"rgba(255,255,255,0)"},
    {"offset":0.7742,"color":"#f4a582"},{"offset":0.7802,"color":"#f4a582"},{"offset":0.7802,"color":"rgba(255,255,255,0)"},{"offset":0.7903,"color":"rgba(255,255,255,0)"},
    {"offset":0.7903,"color":"#f4a582"},{"offset":0.7964,"color":"#f4a582"},{"offset":0.7964,"color":"rgba(255,255,255,0)"},{"offset":0.8065,"color":"rgba(255,255,255,0)"},
    {"offset":0.8065,"color":"#f4a582"},{"offset":0.8125,"color":"#f4a582"},{"offset":0.8125,"color":"rgba(255,255,255,0)"},{"offset":0.8226,"color":"rgba(255,255,255,0)"},
    {"offset":0.8226,"color":"#f4a582"},{"offset":0.8286,"color":"#f4a582"},{"offset":0.8286,"color":"rgba(255,255,255,0)"},{"offset":0.8387,"color":"rgba(255,255,255,0)"},
    {"offset":0.8387,"color":"#f4a582"},{"offset":0.8448,"color":"#f4a582"},{"offset":0.8448,"color":"rgba(255,255,255,0)"},{"offset":0.8548,"color":"rgba(255,255,255,0)"},
    {"offset":0.8548,"color":"#f4a582"},{"offset":0.8609,"color":"#f4a582"},{"offset":0.8609,"color":"rgba(255,255,255,0)"},{"offset":0.8710,"color":"rgba(255,255,255,0)"},
    {"offset":0.8710,"color":"#f4a582"},{"offset":0.8770,"color":"#f4a582"},{"offset":0.8770,"color":"rgba(255,255,255,0)"},{"offset":0.8871,"color":"rgba(255,255,255,0)"},
    {"offset":0.8871,"color":"#f4a582"},{"offset":0.8931,"color":"#f4a582"},{"offset":0.8931,"color":"rgba(255,255,255,0)"},{"offset":0.9032,"color":"rgba(255,255,255,0)"},
    {"offset":0.9032,"color":"#f4a582"},{"offset":0.9093,"color":"#f4a582"},{"offset":0.9093,"color":"rgba(255,255,255,0)"},{"offset":0.9194,"color":"rgba(255,255,255,0)"},
    {"offset":0.9194,"color":"#f4a582"},{"offset":0.9254,"color":"#f4a582"},{"offset":0.9254,"color":"rgba(255,255,255,0)"},{"offset":0.9355,"color":"rgba(255,255,255,0)"},
    {"offset":0.9355,"color":"#f4a582"},{"offset":0.9415,"color":"#f4a582"},{"offset":0.9415,"color":"rgba(255,255,255,0)"},{"offset":0.9516,"color":"rgba(255,255,255,0)"},
    {"offset":0.9516,"color":"#f4a582"},{"offset":0.9577,"color":"#f4a582"},{"offset":0.9577,"color":"rgba(255,255,255,0)"},{"offset":0.9677,"color":"rgba(255,255,255,0)"},
    {"offset":0.9677,"color":"#f4a582"},{"offset":0.9738,"color":"#f4a582"},{"offset":0.9738,"color":"rgba(255,255,255,0)"},{"offset":0.9839,"color":"rgba(255,255,255,0)"},
    {"offset":0.9839,"color":"#f4a582"},{"offset":0.9899,"color":"#f4a582"},{"offset":0.9899,"color":"rgba(255,255,255,0)"},{"offset":1,"color":"rgba(255,255,255,0)"}
   ]}}, "encoding": {"y2": {"datum": 4.17e-11}}},
   {"data": {"name": "wt"}, "layer": [
    {"mark": {"type": "errorbar", "thickness": 1.3}, "encoding": {"xError": {"field": "e"}, "color": {"datum": "wild type", "type": "nominal", "title": null, "scale": {"domain": ["cyr1", "wild type"], "range": ["#FF0000", "#000000"]}}}},
    {"mark": {"type": "line", "strokeWidth": 0.9}, "encoding": {"detail": {"field": "k", "type": "nominal"}, "color": {"datum": "wild type", "type": "nominal", "title": null}, "strokeDash": {"field": "r", "type": "nominal", "title": null, "scale": {"domain": [1, 2], "range": [[1, 0], [1, 2]]}, "legend": {"legendX": 461.75, "legendY": 119.75, "symbolType": "M-1,0H3", "symbolSize": 380, "symbolStrokeWidth": 1.2, "symbolStrokeColor": "#000000", "symbolFillColor": "transparent", "labelOffset": 29.75, "rowPadding": 7, "labelExpr": "'replicate ' + datum.label"}}}},
    {"mark": {"type": "point", "filled": true, "size": 18, "opacity": 1, "strokeWidth": 0}, "encoding": {"color": {"datum": "wild type", "type": "nominal", "title": null, "legend": {"legendX": 478.5, "legendY": -2.5, "symbolType": "circle", "symbolSize": 25, "labelOffset": 10.5, "encoding": {"labels": {"fontStyle": {"condition": {"test": "datum.value === 'wild type'", "value": "normal"}, "value": "italic"}}, "symbols": {"fill": {"condition": {"test": "datum.value === 'wild type'", "value": "#000000"}, "value": "#E3241F"}}}}}}}
   ]},
   {"data": {"name": "cyr1"}, "layer": [
    {"mark": {"type": "errorbar", "thickness": 1.3}, "encoding": {"xError": {"field": "e"}, "color": {"datum": "cyr1", "type": "nominal", "title": null}}},
    {"mark": {"type": "line", "strokeWidth": 0.9}, "encoding": {"detail": {"field": "k", "type": "nominal"}, "color": {"datum": "cyr1", "type": "nominal", "title": null}, "strokeDash": {"field": "r", "type": "nominal", "title": null, "legend": {"legendX": 461.75, "legendY": 119.75, "symbolType": "M-1,0H3", "symbolSize": 380, "symbolStrokeWidth": 1.2, "symbolStrokeColor": "#000000", "symbolFillColor": "transparent", "labelOffset": 29.75, "rowPadding": 7, "labelExpr": "'replicate ' + datum.label"}}}},
    {"mark": {"type": "point", "filled": true, "size": 18, "opacity": 1, "strokeWidth": 0}, "encoding": {"color": {"datum": "cyr1", "type": "nominal", "title": null, "legend": {"legendX": 478.5, "legendY": -2.5, "symbolType": "circle", "symbolSize": 25, "labelOffset": 10.5, "encoding": {"labels": {"fontStyle": {"condition": {"test": "datum.value === 'wild type'", "value": "normal"}, "value": "italic"}}, "symbols": {"fill": {"condition": {"test": "datum.value === 'wild type'", "value": "#000000"}, "value": "#E3241F"}}}}}}}
   ]},
   {"data": {"values": [{"s": 0.0601, "u": 1.66e-10, "i": 1}, {"s": 0.0600, "u": 1.0e-9, "i": 2}, {"s": 0.0568, "u": 1.78e-9, "i": 3}, {"s": 0.0512, "u": 1.95e-9, "i": 4}]}, "mark": {"type": "line", "interpolate": "basis", "color": "#000000", "strokeWidth": 0.8}, "encoding": {"order": {"field": "i", "type": "quantitative"}}},
   {"data": {"values": [{"s": 0.0512, "u": 1.95e-9}]}, "mark": {"type": "point", "shape": "triangle-left", "filled": true, "size": 14, "color": "#000000", "opacity": 1}},
   {"data": {"values": [{"s": 0.0718, "u": 9.1e-11, "t": "U (0.03 < s < 0.05)"}]}, "mark": {"type": "text", "fontSize": 9, "color": "#000000"}, "encoding": {"text": {"field": "t"}}}
  ]
 },
 {
  "width": 455, "height": 283,
  "encoding": {
   "x": {"field": "s", "type": "quantitative", "scale": {"domain": [-0.0037, 0.1887], "nice": false, "zero": false}, "axis": {"title": "Fitness per generation (s)", "values": [0,0.01,0.02,0.03,0.04,0.05,0.06,0.07,0.08,0.09,0.1,0.11,0.12,0.13,0.14,0.15,0.16,0.17,0.18], "labelExpr": "round(datum.value*100)%2==0 && datum.value>0.001 ? format(datum.value,'.2f') : ''", "gridWidth": {"condition": {"test": "round(datum.value*100)%2==1 || datum.value<0.001", "value": 0.5}, "value": 1}, "tickOpacity": {"condition": {"test": "round(datum.value*100)%2==1 || datum.value<0.001", "value": 0}, "value": 1}}},
   "y": {"field": "u", "type": "quantitative", "scale": {"type": "log", "domain": [4.17e-11, 0.0389], "nice": false}, "axis": {"title": "Density u(s)", "values": [0.01,3.162e-4,1e-5,3.162e-7,1e-8,3.162e-10], "labelExpr": "datum.value > 0.005 ? '1e−02' : (datum.value > 5e-6 && datum.value < 2e-5) ? '1e−05' : (datum.value > 5e-9 && datum.value < 2e-8) ? '1e−08' : ''", "gridWidth": {"condition": {"test": "datum.value < 0.005 && !(datum.value > 5e-6 && datum.value < 2e-5) && !(datum.value > 5e-9 && datum.value < 2e-8)", "value": 0.5}, "value": 1}, "tickOpacity": {"condition": {"test": "datum.value < 0.005 && !(datum.value > 5e-6 && datum.value < 2e-5) && !(datum.value > 5e-9 && datum.value < 2e-8)", "value": 0}, "value": 1}}}
  },
  "layer": [
   {"data": {"name": "wt"}, "layer": [
    {"mark": {"type": "errorbar", "thickness": 1.3}, "encoding": {"xError": {"field": "e"}, "color": {"datum": "wild type", "type": "nominal", "title": null, "scale": {"domain": ["gpb2", "wild type"], "range": ["#00FF00", "#000000"]}}}},
    {"mark": {"type": "line", "strokeWidth": 0.9}, "encoding": {"detail": {"field": "k", "type": "nominal"}, "color": {"datum": "wild type", "type": "nominal", "title": null}, "strokeDash": {"field": "r", "type": "nominal", "scale": {"domain": [1, 2], "range": [[1, 0], [1, 2]]}, "legend": null}}},
    {"mark": {"type": "point", "filled": true, "size": 18, "opacity": 1, "strokeWidth": 0}, "encoding": {"color": {"datum": "wild type", "type": "nominal", "title": null, "legend": {"legendX": 478.5, "legendY": -2.5, "symbolType": "circle", "symbolSize": 25, "labelOffset": 10.5, "encoding": {"labels": {"fontStyle": {"condition": {"test": "datum.value === 'wild type'", "value": "normal"}, "value": "italic"}}, "symbols": {"fill": {"condition": {"test": "datum.value === 'wild type'", "value": "#000000"}, "value": "#2DB82D"}}}}}}}
   ]},
   {"data": {"name": "gpb2"}, "layer": [
    {"mark": {"type": "errorbar", "thickness": 1.3}, "encoding": {"xError": {"field": "e"}, "color": {"datum": "gpb2", "type": "nominal", "title": null}}},
    {"mark": {"type": "line", "strokeWidth": 0.9}, "encoding": {"detail": {"field": "k", "type": "nominal"}, "color": {"datum": "gpb2", "type": "nominal", "title": null}, "strokeDash": {"field": "r", "type": "nominal", "legend": null}}},
    {"mark": {"type": "point", "filled": true, "size": 18, "opacity": 1, "strokeWidth": 0}, "encoding": {"color": {"datum": "gpb2", "type": "nominal", "title": null, "legend": {"legendX": 478.5, "legendY": -2.5, "symbolType": "circle", "symbolSize": 25, "labelOffset": 10.5, "encoding": {"labels": {"fontStyle": {"condition": {"test": "datum.value === 'wild type'", "value": "normal"}, "value": "italic"}}, "symbols": {"fill": {"condition": {"test": "datum.value === 'wild type'", "value": "#000000"}, "value": "#2DB82D"}}}}}}}
   ]}
  ]
 },
 {
  "width": 455, "height": 283,
  "encoding": {
   "x": {"field": "s", "type": "quantitative", "scale": {"domain": [-0.0037, 0.1887], "nice": false, "zero": false}, "axis": {"title": "Fitness per generation (s)", "values": [0,0.01,0.02,0.03,0.04,0.05,0.06,0.07,0.08,0.09,0.1,0.11,0.12,0.13,0.14,0.15,0.16,0.17,0.18], "labelExpr": "round(datum.value*100)%2==0 && datum.value>0.001 ? format(datum.value,'.2f') : ''", "gridWidth": {"condition": {"test": "round(datum.value*100)%2==1 || datum.value<0.001", "value": 0.5}, "value": 1}, "tickOpacity": {"condition": {"test": "round(datum.value*100)%2==1 || datum.value<0.001", "value": 0}, "value": 1}}},
   "y": {"field": "u", "type": "quantitative", "scale": {"type": "log", "domain": [4.17e-11, 0.0389], "nice": false}, "axis": {"title": "Density u(s)", "values": [0.01,3.162e-4,1e-5,3.162e-7,1e-8,3.162e-10], "labelExpr": "datum.value > 0.005 ? '1e−02' : (datum.value > 5e-6 && datum.value < 2e-5) ? '1e−05' : (datum.value > 5e-9 && datum.value < 2e-8) ? '1e−08' : ''", "gridWidth": {"condition": {"test": "datum.value < 0.005 && !(datum.value > 5e-6 && datum.value < 2e-5) && !(datum.value > 5e-9 && datum.value < 2e-8)", "value": 0.5}, "value": 1}, "tickOpacity": {"condition": {"test": "datum.value < 0.005 && !(datum.value > 5e-6 && datum.value < 2e-5) && !(datum.value > 5e-9 && datum.value < 2e-8)", "value": 0}, "value": 1}}}
  },
  "layer": [
   {"data": {"name": "wt"}, "layer": [
    {"mark": {"type": "errorbar", "thickness": 1.3}, "encoding": {"xError": {"field": "e"}, "color": {"datum": "wild type", "type": "nominal", "title": null, "scale": {"domain": ["tor1", "wild type"], "range": ["#0000FF", "#000000"]}}}},
    {"mark": {"type": "line", "strokeWidth": 0.9}, "encoding": {"detail": {"field": "k", "type": "nominal"}, "color": {"datum": "wild type", "type": "nominal", "title": null}, "strokeDash": {"field": "r", "type": "nominal", "scale": {"domain": [1, 2], "range": [[1, 0], [1, 2]]}, "legend": null}}},
    {"mark": {"type": "point", "filled": true, "size": 18, "opacity": 1, "strokeWidth": 0}, "encoding": {"color": {"datum": "wild type", "type": "nominal", "title": null, "legend": {"legendX": 478.5, "legendY": -2.5, "symbolType": "circle", "symbolSize": 25, "labelOffset": 10.5, "encoding": {"labels": {"fontStyle": {"condition": {"test": "datum.value === 'wild type'", "value": "normal"}, "value": "italic"}}, "symbols": {"fill": {"condition": {"test": "datum.value === 'wild type'", "value": "#000000"}, "value": "#33339F"}}}}}}}
   ]},
   {"data": {"name": "tor1"}, "layer": [
    {"mark": {"type": "errorbar", "thickness": 1.3}, "encoding": {"xError": {"field": "e"}, "color": {"datum": "tor1", "type": "nominal", "title": null}}},
    {"mark": {"type": "line", "strokeWidth": 0.9}, "encoding": {"detail": {"field": "k", "type": "nominal"}, "color": {"datum": "tor1", "type": "nominal", "title": null}, "strokeDash": {"field": "r", "type": "nominal", "legend": null}}},
    {"mark": {"type": "point", "filled": true, "size": 18, "opacity": 1, "strokeWidth": 0}, "encoding": {"color": {"datum": "tor1", "type": "nominal", "title": null, "legend": {"legendX": 478.5, "legendY": -2.5, "symbolType": "circle", "symbolSize": 25, "labelOffset": 10.5, "encoding": {"labels": {"fontStyle": {"condition": {"test": "datum.value === 'wild type'", "value": "normal"}, "value": "italic"}}, "symbols": {"fill": {"condition": {"test": "datum.value === 'wild type'", "value": "#000000"}, "value": "#33339F"}}}}}}}
   ]}
  ]
 }
]
}
